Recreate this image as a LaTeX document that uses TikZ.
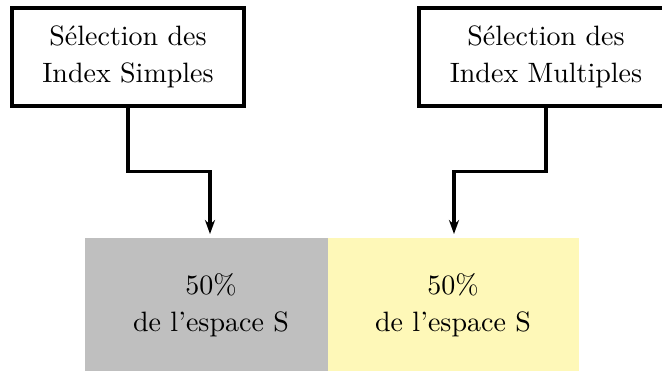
\documentclass[tikz,border=0pt]{standalone}
\usepackage{fontspec}
\usetikzlibrary{arrows.meta}
\definecolor{boxgray}{RGB}{191,191,191}
\definecolor{boxyellow}{RGB}{254,248,184}
\begin{document}
\begin{tikzpicture}[x=0.357pt,y=-0.357pt,
  selbox/.style={draw=black,line width=1.1pt,fill=white,minimum width=232*0.357pt,minimum height=98*0.357pt,inner sep=0pt,align=center,font=\fontsize{10}{13.2}\selectfont},
  txt/.style={align=center,inner sep=0pt,font=\fontsize{10}{13.2}\selectfont},
  arr/.style={line width=1.1pt,-{Stealth[length=5pt,width=3.6pt]}}]
\useasboundingbox (0,0) rectangle (662,371);
\begin{scope}
\clip (0,0) rectangle (662,371);
\fill[boxgray] (85,238) rectangle (328,380);
\fill[boxyellow] (328,238) rectangle (579,380);
\node[txt] (gtxt) at (211,305) {50\%\\de l'espace S};
\node[txt] (ytxt) at (453,305) {50\%\\de l'espace S};
\node[selbox] (ls) at (128,57) {Sélection des\\Index Simples};
\node[selbox,minimum width=254*0.357pt] (ms) at (546,57) {Sélection des\\Index Multiples};
\coordinate (tipL) at (210,234);
\coordinate (tipR) at (454,234);
\draw[arr] (ls.south) -- ++(0,64) -| (tipL);
\draw[arr] (ms.south) -- ++(0,64) -| (tipR);
\end{scope}
\end{tikzpicture}
\end{document}
